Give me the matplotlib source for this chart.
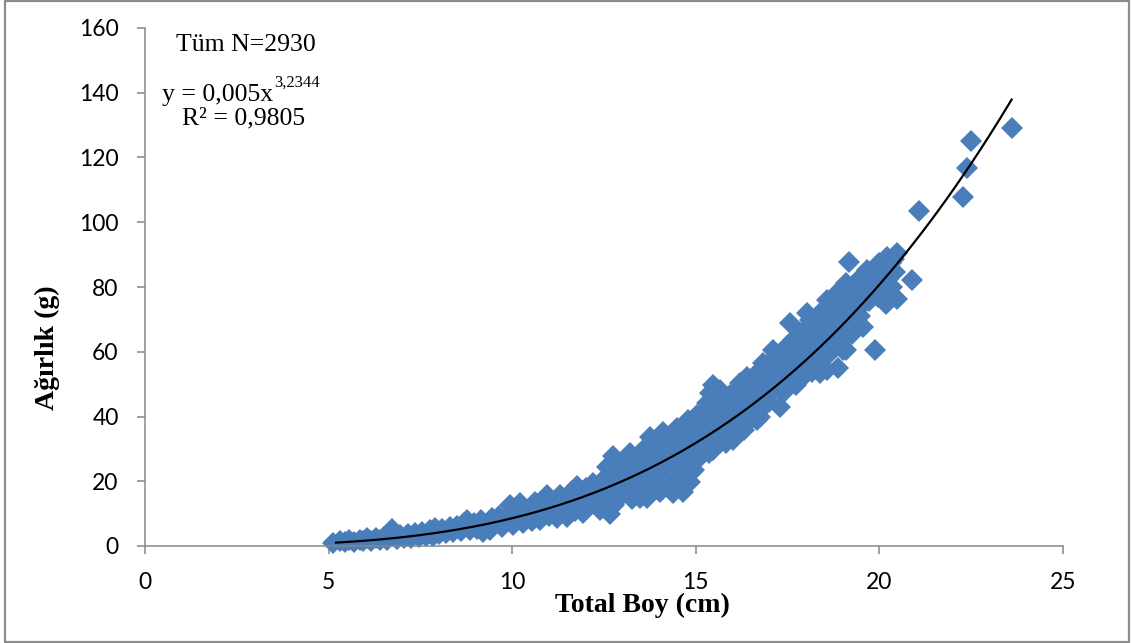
import numpy as np
import matplotlib
matplotlib.use("Agg")
import matplotlib.pyplot as plt
from matplotlib.patches import Rectangle

# ---------------- data ----------------
length_a = [5.12, 5.30, 5.45, 5.55, 5.70, 5.85, 5.95, 6.05, 6.15, 6.30, 6.40, 6.50,
            6.60, 6.72, 6.75, 6.85, 6.95, 7.05, 7.15, 7.25, 7.35, 7.45, 7.55, 7.65,
            7.75, 7.85, 7.90, 8.00, 8.10, 8.20, 8.30, 8.40, 8.50, 8.60, 8.70, 8.76,
            8.85, 8.95, 9.05, 9.15, 9.21, 9.30, 9.40, 9.45]
weight_a = [1.0, 1.4, 1.2, 1.8, 1.3, 2.0, 1.4, 2.4, 1.6, 2.6, 1.8, 2.9,
            2.0, 5.3, 3.2, 2.2, 3.4, 2.4, 3.8, 2.6, 4.1, 2.9, 4.4, 3.1,
            4.8, 3.0, 5.6, 3.6, 5.2, 4.0, 5.8, 4.2, 6.3, 4.6, 7.0, 8.0,
            5.0, 7.2, 5.4, 8.0, 4.4, 6.6, 5.0, 8.6]

length_b = [9.55, 9.65, 9.72, 9.82, 9.94, 9.95, 10.03, 10.10, 10.15, 10.22, 10.30,
            10.38, 10.48, 10.55, 10.62, 10.70, 10.76, 10.85, 10.94, 11.00, 11.08,
            11.15, 11.21, 11.30, 11.38, 11.48, 11.55, 11.62, 11.70, 11.76, 11.82,
            11.90, 11.94, 12.02, 12.10, 12.18, 12.21, 12.30, 12.39, 12.45, 12.50,
            12.57, 12.60, 12.66, 12.70, 12.75, 12.78, 12.84, 12.88, 12.94, 12.98,
            11.05, 11.42, 11.65, 11.85, 12.05, 12.25, 12.35, 12.55, 12.62, 12.72,
            12.90, 12.82]
weight_b = [7.0, 9.2, 5.8, 8.0, 12.7, 9.8, 6.5, 8.6, 11.0, 13.3, 7.2,
            9.8, 11.8, 7.8, 13.5, 10.2, 8.0, 12.4, 15.8, 9.4, 13.8,
            11.2, 8.5, 15.6, 12.2, 9.0, 14.0, 17.0, 10.8, 18.6, 12.8,
            15.6, 10.1, 17.8, 12.4, 14.8, 19.4, 16.6, 11.1, 20.2, 13.6,
            24.5, 17.6, 10.0, 21.0, 27.8, 12.6, 15.8, 19.2, 15.2, 23.2,
            11.0, 14.0, 12.5, 14.5, 15.0, 13.5, 18.5, 15.5, 20.5, 17.5,
            21.0, 24.0]

length_c = [13.05, 13.10, 13.15, 13.20, 13.25, 13.30, 13.35, 13.42, 13.48, 13.52,
            13.58, 13.62, 13.66, 13.70, 13.75, 13.80, 13.86, 13.92, 13.98, 14.03,
            14.06, 14.11, 14.16, 14.22, 14.28, 14.33, 14.39, 14.42, 14.48, 14.52,
            14.57, 14.60, 14.66, 14.70, 14.75, 14.80, 14.84, 14.88, 14.95, 15.02,
            15.02, 15.08, 15.14, 15.20, 15.26, 15.30, 15.35, 15.39, 15.42, 15.48,
            15.48, 15.54, 15.60, 15.66, 15.70, 15.76, 15.82, 15.88, 15.94, 16.02,
            16.06, 16.12, 16.20, 16.24, 16.30, 16.34, 16.39, 16.44, 16.50, 16.56,
            16.62, 16.66,
            13.12, 13.38, 13.55, 13.72, 13.90, 14.05, 14.14, 14.25, 14.36, 14.45,
            14.55, 14.64, 14.72, 14.78, 14.90, 14.98, 15.10, 15.18, 15.24, 15.33,
            15.45, 15.52, 15.58, 15.72, 15.85, 15.98, 16.10, 16.15, 16.28, 16.40,
            16.48, 16.58]
weight_c = [17.0, 26.0, 21.0, 28.6, 14.6, 24.0, 18.4, 27.0, 14.8, 21.6,
            30.0, 18.0, 14.7, 25.4, 33.8, 21.4, 28.8, 17.6, 24.4, 16.8,
            31.8, 35.3, 21.0, 27.4, 32.6, 18.8, 16.3, 24.6, 36.4, 29.8,
            17.9, 21.8, 16.6, 33.6, 26.4, 38.8, 19.9, 30.4, 23.6, 40.5,
            26.6, 34.6, 29.6, 37.8, 32.0, 44.1, 28.8, 47.2, 36.0, 49.7,
            29.7, 40.2, 33.4, 48.2, 37.6, 44.0, 31.8, 41.0, 46.6, 32.7,
            38.4, 44.4, 50.3, 36.0, 35.8, 41.8, 52.3, 47.0, 39.2, 44.4,
            50.6, 38.9,
            23.0, 21.5, 25.0, 28.0, 26.0, 28.5, 24.0, 30.0, 27.0, 32.0,
            25.0, 30.5, 36.5, 23.0, 35.0, 28.5, 38.5, 33.0, 42.0, 38.0,
            33.0, 44.0, 38.5, 42.0, 36.0, 40.5, 48.0, 41.0, 45.0, 43.5,
            49.5, 47.5]

length_d = [16.72, 16.75, 16.80, 16.84, 16.88, 16.94, 17.00, 17.05, 17.11, 17.16,
            17.22, 17.29, 17.29, 17.34, 17.38, 17.44, 17.50, 17.57, 17.55, 17.62,
            17.68, 17.72, 17.78, 17.84, 17.90, 17.96, 18.02, 18.06, 18.11, 18.16,
            18.22, 18.28, 18.34, 18.38, 18.44, 18.50, 18.56, 18.56, 18.62, 18.68,
            18.75, 18.84, 18.80, 18.88, 18.92, 18.98, 19.05,
            16.70, 16.70, 16.90, 16.98, 17.08, 17.18, 17.25, 17.36, 17.42, 17.48,
            17.58, 17.65, 17.70, 17.80, 17.88, 17.92, 18.00, 18.08, 18.14, 18.20,
            18.26, 18.32, 18.40, 18.46, 18.52, 18.58, 18.66, 18.72, 18.78, 18.86,
            18.90, 18.96, 19.00, 19.02]
weight_d = [54.0, 40.0, 47.0, 56.4, 43.4, 51.0, 44.6, 57.0, 60.5, 48.6,
            54.2, 43.0, 59.0, 50.2, 47.2, 56.0, 62.0, 68.8, 52.0, 58.4,
            64.0, 49.6, 55.0, 51.3, 61.0, 66.6, 71.9, 57.4, 69.8, 53.6,
            63.0, 67.8, 59.0, 53.3, 72.6, 64.6, 76.0, 54.4, 69.0, 60.0,
            73.8, 78.0, 64.4, 54.9, 69.6, 75.0, 64.6,
            45.0, 50.0, 53.5, 48.5, 52.0, 56.5, 51.0, 55.0, 60.0, 49.0,
            55.5, 61.5, 53.5, 58.5, 64.0, 55.0, 60.5, 65.5, 62.0, 58.0,
            70.5, 64.0, 61.5, 67.5, 58.5, 71.0, 65.5, 62.0, 70.0, 74.0,
            66.5, 71.5, 78.5, 60.5]

length_e = [19.10, 19.10, 19.18, 19.22, 19.30, 19.38, 19.45, 19.50, 19.56, 19.60,
            19.65, 19.72, 19.80, 19.88, 19.90, 19.95, 20.00, 20.05, 20.10, 20.19,
            20.20, 20.28, 20.35, 20.40, 20.47, 20.49, 20.90, 21.08, 22.29, 22.39,
            22.50, 23.60,
            19.08, 19.14, 19.20, 19.26, 19.34, 19.40, 19.48, 19.54, 19.58, 19.68,
            19.76, 19.84, 19.92, 20.02, 20.08, 20.14, 20.24, 20.32, 20.42]
weight_e = [60.5, 81.1, 87.6, 72.0, 77.6, 68.0, 82.6, 74.0, 67.7, 79.0,
            85.3, 75.6, 82.0, 60.5, 86.0, 76.8, 87.4, 80.6, 84.0, 74.9,
            89.4, 86.0, 80.0, 88.6, 90.4, 76.3, 82.2, 103.5, 107.7, 116.7,
            125.1, 129.0,
            69.0, 74.5, 79.0, 65.5, 73.5, 79.5, 71.0, 77.5, 83.0, 80.0,
            78.5, 85.0, 81.0, 84.5, 77.5, 86.5, 82.5, 87.5, 84.5]

# power trendline y = a * x^b (shown on chart)
fit_a = 0.005
fit_b = 3.2344

x_ticks = [0, 5, 10, 15, 20, 25]
y_ticks = [0, 20, 40, 60, 80, 100, 120, 140, 160]

# ---------------- figure ----------------
W, H = 1131, 643
fig = plt.figure(figsize=(W / 100, H / 100), dpi=100)

def fx(px):
    return px / W

def fy(py):
    return 1 - py / H

ax = fig.add_axes([fx(145), fy(546), fx(1063) - fx(145), fy(28) - fy(546)])

length = length_a + length_b + length_c + length_d + length_e
weight = weight_a + weight_b + weight_c + weight_d + weight_e

blue = "#4A7EBB"
ax.plot(length, weight, linestyle="none", marker="D", markersize=10.8,
        markerfacecolor=blue, markeredgecolor=blue, markeredgewidth=0.0, zorder=2,
        clip_on=False)

xs = np.linspace(5.2, max(length), 300)
ax.plot(xs, fit_a * xs ** fit_b, color="black", linewidth=1.6, zorder=3)

ax.set_xlim(0, 25)
ax.set_ylim(0, 160)
ax.set_xticks(x_ticks)
ax.set_yticks(y_ticks)

grey = "#868686"
for s in ["top", "right"]:
    ax.spines[s].set_visible(False)
for s in ["left", "bottom"]:
    ax.spines[s].set_color(grey)
    ax.spines[s].set_linewidth(1.1)

ax.tick_params(axis="both", direction="out", length=6, width=1.1, color=grey,
               labelcolor="black")
ax.tick_params(axis="x", pad=12.5)
ax.tick_params(axis="y", pad=13)
for lab in ax.get_xticklabels() + ax.get_yticklabels():
    lab.set_fontfamily("Lato")
    lab.set_fontsize(16.5)

serif = "Liberation Serif"
fig.text(fx(642), fy(605), "Total Boy (cm)", family=serif, weight="bold",
         size=20, ha="center", va="center")
fig.text(fx(47), fy(348), "Ağırlık (g)", family=serif, weight="bold",
         size=20, ha="center", va="center", rotation=90)

fig.text(fx(246), fy(45), "Tüm N=2930", family=serif, size=18.5,
         ha="center", va="center")
t_eq = fig.text(fx(162), fy(95), "y = 0,005x", family=serif, size=18.5,
                ha="left", va="center")
fig.canvas.draw()
bb = t_eq.get_window_extent(renderer=fig.canvas.get_renderer())
fig.text(bb.x1 / W + 0.0005, fy(83), "3,2344", family=serif, size=12,
         ha="left", va="center")
fig.text(fx(244), fy(118), "R² = 0,9805", family=serif, size=18.5,
         ha="center", va="center")

# outer border
fig.patches.append(Rectangle((fx(4.5), fy(641.5)), fx(1129) - fx(4.5),
                             fy(1) - fy(641.5), transform=fig.transFigure,
                             fill=False, edgecolor="#8C8C8C", linewidth=1.6))

fig.savefig("out.png", dpi=100)
